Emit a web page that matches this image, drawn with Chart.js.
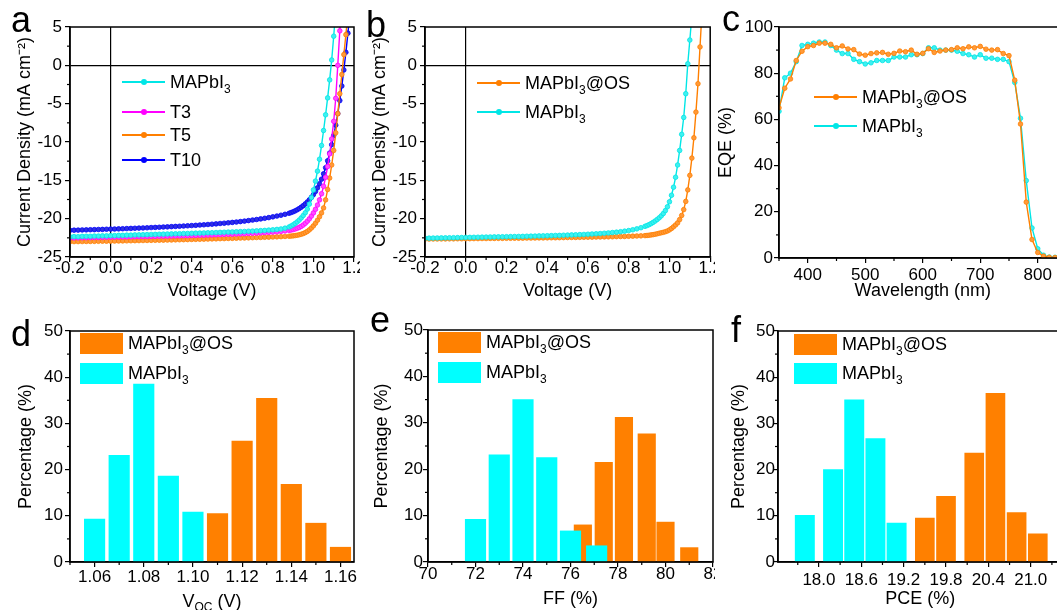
<!DOCTYPE html>
<html>
<head>
<meta charset="utf-8">
<script src="https://cdn.jsdelivr.net/npm/chart.js@4.4.1/dist/chart.umd.min.js"></script>
<style>
  body { margin: 0; width: 1057px; height: 610px; overflow: hidden; background: #fff; position: relative;
         font-family: 'Liberation Sans', Arial, sans-serif; color: #000; }
  canvas { position: absolute; }
  .tag { position: absolute; font-size: 36px; line-height: 1; }
  .lg { position: absolute; display: flex; align-items: center; height: 22px; font-size: 18px; white-space: nowrap; }
  .lg sub { font-size: 12px; vertical-align: -5px; line-height: 0; }
  .ln { display: inline-block; position: relative; width: 43px; height: 2px; margin-right: 5px; background: var(--c); }
  .ln::after { content: ''; position: absolute; left: 50%; top: 50%; width: 6px; height: 6px; margin: -3px 0 0 -3px;
               border-radius: 50%; background: var(--c); }
  .bx { display: inline-block; width: 43px; height: 21px; margin-right: 5px; background: var(--c); }
  .xt { position: absolute; font-size: 18px; white-space: nowrap; transform: translateX(-50%); }
  .xt sub { font-size: 12px; vertical-align: -4px; line-height: 0; }
</style>
</head>
<body>
<canvas id="pa" width="360" height="305" style="left:0;top:0"></canvas>
<canvas id="pb" width="360" height="305" style="left:355px;top:0"></canvas>
<canvas id="pc" width="400" height="305" style="left:710px;top:0"></canvas>
<canvas id="pd" width="360" height="310" style="left:0;top:300px"></canvas>
<canvas id="pe" width="360" height="310" style="left:355px;top:300px"></canvas>
<canvas id="pf" width="400" height="310" style="left:710px;top:300px"></canvas>

<div class="tag" style="left:11px;top:2px">a</div>
<div class="tag" style="left:366px;top:7px">b</div>
<div class="tag" style="left:722px;top:1px">c</div>
<div class="tag" style="left:11px;top:316px">d</div>
<div class="tag" style="left:370px;top:302px">e</div>
<div class="tag" style="left:731px;top:312px">f</div>

<div class="lg" style="left:122px;top:71px"><span class="ln" style="--c:#00e6e6"></span><span>MAPbI<sub>3</sub></span></div>
<div class="lg" style="left:122px;top:101px"><span class="ln" style="--c:#ff00ff"></span><span>T3</span></div>
<div class="lg" style="left:122px;top:124px"><span class="ln" style="--c:#ff7f00"></span><span>T5</span></div>
<div class="lg" style="left:122px;top:149px"><span class="ln" style="--c:#0000ff"></span><span>T10</span></div>

<div class="lg" style="left:477px;top:72px"><span class="ln" style="--c:#ff7f00"></span><span>MAPbI<sub>3</sub>@OS</span></div>
<div class="lg" style="left:477px;top:101px"><span class="ln" style="--c:#00e6e6"></span><span>MAPbI<sub>3</sub></span></div>

<div class="lg" style="left:814px;top:86px"><span class="ln" style="--c:#ff7f00"></span><span>MAPbI<sub>3</sub>@OS</span></div>
<div class="lg" style="left:814px;top:115px"><span class="ln" style="--c:#00e6e6"></span><span>MAPbI<sub>3</sub></span></div>

<div class="lg" style="left:80px;top:332px"><span class="bx" style="--c:#ff8000"></span><span>MAPbI<sub>3</sub>@OS</span></div>
<div class="lg" style="left:80px;top:362px"><span class="bx" style="--c:#00ffff"></span><span>MAPbI<sub>3</sub></span></div>
<div class="lg" style="left:438px;top:331px"><span class="bx" style="--c:#ff8000"></span><span>MAPbI<sub>3</sub>@OS</span></div>
<div class="lg" style="left:438px;top:361px"><span class="bx" style="--c:#00ffff"></span><span>MAPbI<sub>3</sub></span></div>
<div class="lg" style="left:794px;top:333px"><span class="bx" style="--c:#ff8000"></span><span>MAPbI<sub>3</sub>@OS</span></div>
<div class="lg" style="left:794px;top:362px"><span class="bx" style="--c:#00ffff"></span><span>MAPbI<sub>3</sub></span></div>

<div class="xt" style="left:212px;top:591px">V<sub>OC</sub> (V)</div>

<script>
// ---- J-V data (panels a, b): voltage grid and current density per device ----
const vGrid = [-0.2,-0.18,-0.16,-0.14,-0.12,-0.1,-0.08,-0.06,-0.04,-0.02,
  0,0.02,0.04,0.06,0.08,0.1,0.12,0.14,0.16,0.18,
  0.2,0.22,0.24,0.26,0.28,0.3,0.32,0.34,0.36,0.38,
  0.4,0.42,0.44,0.46,0.48,0.5,0.52,0.54,0.56,0.58,
  0.6,0.62,0.64,0.66,0.68,0.7,0.72,0.74,0.76,0.78,
  0.8,0.82,0.84,0.86,0.88,
  0.89,0.9,0.91,0.92,0.93,0.94,0.95,0.96,0.97,0.98,
  0.99,1.0,1.01,1.02,1.03,1.04,1.05,1.06,1.07,1.08,
  1.09,1.1,1.11,1.12,1.13,1.14,1.15,1.16,1.17,1.18];

const jvA_MAPbI3 = [-22.36,-22.34,-22.35,-22.31,-22.30,-22.30,-22.27,-22.27,-22.24,-22.24,
  -22.21,-22.21,-22.18,-22.18,-22.15,-22.15,-22.12,-22.11,-22.09,-22.08,
  -22.06,-22.05,-22.03,-22.02,-22.00,-21.99,-21.97,-21.96,-21.94,-21.93,
  -21.91,-21.89,-21.88,-21.86,-21.84,-21.83,-21.81,-21.79,-21.77,-21.75,
  -21.73,-21.71,-21.69,-21.67,-21.64,-21.62,-21.59,-21.56,-21.53,-21.49,
  -21.45,-21.40,-21.34,-21.24,-21.08,
  -20.95,-20.80,-20.62,-20.42,-20.18,-19.90,-19.58,-19.22,-18.75,-18.10,
  -17.25,-16.25,-15.10,-13.80,-12.25,-10.45,-8.50,-6.45,-4.25,-1.90,
  0.70,3.80,7.20];
const jvA_T3 = [-22.52,-22.51,-22.50,-22.49,-22.48,-22.47,-22.46,-22.45,-22.44,-22.43,
  -22.42,-22.41,-22.40,-22.39,-22.38,-22.37,-22.36,-22.35,-22.34,-22.33,
  -22.32,-22.31,-22.30,-22.29,-22.28,-22.27,-22.26,-22.25,-22.23,-22.22,
  -22.20,-22.19,-22.17,-22.16,-22.14,-22.12,-22.10,-22.08,-22.06,-22.04,
  -22.02,-22.00,-21.98,-21.96,-21.93,-21.91,-21.88,-21.85,-21.82,-21.79,
  -21.75,-21.71,-21.66,-21.60,-21.53,
  -21.48,-21.42,-21.34,-21.25,-21.14,-21.00,-20.82,-20.60,-20.33,-20.02,
  -19.66,-19.25,-18.78,-18.22,-17.55,-16.75,-15.78,-14.60,-13.20,-11.55,
  -9.60,-7.30,-4.30,0.00,4.50,9.00];
const jvA_T5 = [-23.00,-22.99,-22.99,-22.98,-22.97,-22.97,-22.96,-22.95,-22.94,-22.94,
  -22.93,-22.92,-22.91,-22.90,-22.89,-22.88,-22.87,-22.86,-22.85,-22.84,
  -22.83,-22.82,-22.81,-22.80,-22.79,-22.78,-22.76,-22.75,-22.74,-22.73,
  -22.71,-22.70,-22.69,-22.67,-22.66,-22.64,-22.63,-22.61,-22.60,-22.58,
  -22.57,-22.55,-22.53,-22.52,-22.50,-22.48,-22.46,-22.45,-22.43,-22.41,
  -22.39,-22.37,-22.35,-22.32,-22.29,
  -22.27,-22.24,-22.20,-22.16,-22.10,-22.03,-21.94,-21.82,-21.66,-21.46,
  -21.22,-20.94,-20.60,-20.20,-19.75,-19.25,-18.60,-17.55,-16.20,-14.70,
  -13.00,-11.10,-8.80,-6.30,-3.70,-1.20,1.40,4.00,6.70];
const jvA_T10 = [-21.52,-21.50,-21.49,-21.47,-21.46,-21.44,-21.43,-21.41,-21.40,-21.38,
  -21.36,-21.35,-21.33,-21.31,-21.29,-21.27,-21.25,-21.23,-21.21,-21.19,
  -21.16,-21.14,-21.12,-21.09,-21.07,-21.04,-21.01,-20.99,-20.96,-20.93,
  -20.90,-20.87,-20.83,-20.80,-20.76,-20.72,-20.68,-20.63,-20.59,-20.54,
  -20.49,-20.44,-20.38,-20.32,-20.25,-20.18,-20.11,-20.03,-19.95,-19.86,
  -19.76,-19.66,-19.55,-19.43,-19.30,
  -19.20,-19.10,-18.98,-18.84,-18.68,-18.50,-18.30,-18.07,-17.82,-17.54,
  -17.22,-16.86,-16.45,-15.98,-15.45,-14.85,-14.15,-13.35,-12.45,-11.45,
  -10.35,-9.15,-7.80,-6.30,-4.60,-2.70,-0.60,1.70,4.20,6.90];

const jvB_OS = [-22.66,-22.66,-22.65,-22.65,-22.64,-22.64,-22.63,-22.63,-22.62,-22.62,
  -22.61,-22.61,-22.60,-22.60,-22.59,-22.59,-22.58,-22.58,-22.57,-22.57,
  -22.56,-22.56,-22.55,-22.55,-22.54,-22.53,-22.53,-22.52,-22.51,-22.51,
  -22.50,-22.49,-22.49,-22.48,-22.47,-22.46,-22.45,-22.45,-22.44,-22.43,
  -22.42,-22.41,-22.40,-22.39,-22.38,-22.37,-22.36,-22.34,-22.33,-22.32,
  -22.30,-22.28,-22.26,-22.24,-22.21,
  -22.19,-22.16,-22.12,-22.08,-22.03,-21.97,-21.90,-21.84,-21.78,-21.70,
  -21.60,-21.46,-21.28,-21.06,-20.82,-20.55,-20.12,-19.58,-18.82,-17.75,
  -16.25,-14.35,-12.10,-9.45,-6.10,-2.40,2.40,7.20];
const jvB_MAPbI3 = [-22.55,-22.54,-22.53,-22.52,-22.51,-22.50,-22.49,-22.48,-22.47,-22.46,
  -22.45,-22.44,-22.43,-22.42,-22.41,-22.40,-22.39,-22.38,-22.37,-22.36,
  -22.35,-22.34,-22.33,-22.32,-22.31,-22.29,-22.28,-22.27,-22.25,-22.24,
  -22.22,-22.21,-22.19,-22.18,-22.16,-22.14,-22.12,-22.10,-22.08,-22.06,
  -22.03,-22.00,-21.97,-21.94,-21.90,-21.86,-21.81,-21.76,-21.70,-21.63,
  -21.55,-21.45,-21.33,-21.18,-21.00,
  -20.90,-20.78,-20.64,-20.48,-20.30,-20.10,-19.88,-19.63,-19.33,-18.95,
  -18.45,-17.80,-16.95,-15.90,-14.60,-13.00,-11.10,-9.00,-6.80,-3.70,
  0.20,3.30,6.50];

// ---- EQE data (panel c) ----
const wavelength = [350,360,370,380,390,400,410,420,430,440,
  450,460,470,480,490,500,510,520,530,540,
  550,560,570,580,590,600,610,620,630,640,
  650,660,670,680,690,700,710,720,730,740,
  750,760,770,780,790,800,810,820,830,840];
const eqeOS = [65,73.5,77.5,85.5,89.5,91.5,92,93,93,92.5,
  91,91.8,90.5,90.2,88.3,87.8,88.5,88.8,89,88.2,
  88.6,89.6,89.3,90,88.2,88.6,90.6,89,89.6,90,
  90.2,91,90.6,91.4,91,91.6,90.4,90,90.2,88.5,
  87.6,77,58,24.2,8,2.4,0.8,0.3,0.2,0.1];
const eqeRef = [63.5,78,80,85,92,92.5,93,93.5,93.5,92,
  90,88.5,88.5,86,85,84,84.5,85.5,85.5,85.5,
  87,87,87,88,88,88.5,91,91,90,90,
  90,89.5,88.5,88,87,88,86.5,86.5,86,86,
  85,76,60.5,33.5,13,4,1.2,0.4,0.3,0.2];

// ---- statistics histograms (panels d, e, f): bin centre and percentage ----
const vocRefBins = [1.06, 1.07, 1.08, 1.09, 1.10];
const vocRefPct  = [9.3, 23.1, 38.5, 18.6, 10.8];
const vocOSBins  = [1.11, 1.12, 1.13, 1.14, 1.15, 1.16];
const vocOSPct   = [10.5, 26.2, 35.4, 16.8, 8.4, 3.2];

const ffRefBins = [72, 73, 74, 75, 76, 77.1];
const ffRefPct  = [9.2, 23.1, 35.0, 22.5, 6.7, 3.5];
const ffOSBins  = [76.52, 77.4, 78.25, 79.21, 80.0, 81.0];
const ffOSPct   = [8.0, 21.5, 31.2, 27.6, 8.6, 3.1];

const pceRefBins = [17.8, 18.2, 18.5, 18.8, 19.1];
const pceRefPct  = [10.1, 20.0, 35.1, 26.7, 8.4];
const pceOSBins  = [19.5, 19.8, 20.2, 20.5, 20.8, 21.1];
const pceOSPct   = [9.5, 14.2, 23.6, 36.5, 10.7, 6.1];

// ---- tick labels ----
const jvXTicks  = [-0.2, 0, 0.2, 0.4, 0.6, 0.8, 1.0, 1.2];
const jvYTicks  = [-25, -20, -15, -10, -5, 0, 5];
const eqeXTicks = [400, 500, 600, 700, 800];
const eqeYTicks = [0, 20, 40, 60, 80, 100];
const pctTicks  = [0, 10, 20, 30, 40, 50];
const vocTicks  = [1.06, 1.08, 1.10, 1.12, 1.14, 1.16];
const ffTicks   = [70, 72, 74, 76, 78, 80, 82];
const pceTicks  = [18.0, 18.6, 19.2, 19.8, 20.4, 21.0];

Chart.defaults.font.family = "'Liberation Sans', Arial, sans-serif";
Chart.defaults.color = '#000';

// box round the plot area plus short minor ticks half way between the major ones
const framePlugin = {
  id: 'frame',
  afterDraw(chart) {
    const { ctx, chartArea: a, scales } = chart;
    ctx.save();
    ctx.strokeStyle = '#000';
    ctx.lineWidth = 1.5;
    ctx.strokeRect(a.left, a.top, a.right - a.left, a.bottom - a.top);
    ctx.lineWidth = 1.2;
    ['x', 'y'].forEach(id => {
      const s = scales[id];
      const t = s.ticks.map(k => k.value);
      const step = t[1] - t[0];
      const minor = [t[0] - step / 2].concat(t.map(v => v + step / 2));
      minor.forEach(v => {
        if (v < s.min - 1e-9 || v > s.max + 1e-9) return;
        const p = s.getPixelForValue(v);
        ctx.beginPath();
        if (id === 'x') { ctx.moveTo(p, a.bottom); ctx.lineTo(p, a.bottom + 3); }
        else { ctx.moveTo(a.left, p); ctx.lineTo(a.left - 3, p); }
        ctx.stroke();
      });
    });
    ctx.restore();
  }
};

function axis(o) {
  return {
    type: 'linear', min: o.min, max: o.max, offset: false,
    afterBuildTicks: s => { s.ticks = o.ticks.map(v => ({ value: v })); },
    afterFit: s => {
      if (s.isHorizontal()) s.height = o.size; else s.width = o.size;
      s.paddingLeft = s.paddingRight = s.paddingTop = s.paddingBottom = 0;
    },
    ticks: { autoSkip: false, maxRotation: 0, padding: o.pad, font: { size: 17 }, color: '#000',
             callback: v => v.toFixed(o.dec || 0) },
    grid: { offset: false, drawOnChartArea: !!o.zero, drawTicks: true, tickLength: 5,
            tickColor: '#000', tickWidth: 1.2, lineWidth: 1.2,
            color: c => (c.tick && c.tick.value === 0) ? '#000' : 'rgba(0,0,0,0)' },
    border: { display: true, color: '#000', width: 1.5 },
    title: { display: !!o.title, text: o.title || '', font: { size: 18 }, color: '#000', padding: o.tpad || 0 }
  };
}

function pts(xs, ys) {
  return ys.map((y, i) => ({ x: xs[i], y: y }));
}

function curve(label, xs, ys, col, fill, order) {
  return { label, data: pts(xs, ys), showLine: true, borderColor: col, borderWidth: 1.4,
           pointRadius: 2.3, pointBorderWidth: 0.8, pointBackgroundColor: fill, pointBorderColor: col, order };
}

function bars(label, xs, ys, col, w, order) {
  return { label, data: pts(xs, ys), backgroundColor: col, barThickness: w, grouped: false, order };
}

function makeChart(id, type, sets, xa, ya, pad) {
  return new Chart(document.getElementById(id), {
    type: type,
    data: { datasets: sets },
    options: {
      responsive: false, animation: false,
      layout: { padding: pad },
      plugins: { legend: { display: false }, tooltip: { enabled: false } },
      scales: { x: xa, y: ya }
    },
    plugins: [framePlugin]
  });
}

const CYAN = '#00e6e6', CYANPT = '#3ff0f0';
const ORANGE = '#ff7f00', ORANGEPT = '#ff9a3a';

// a
makeChart('pa', 'scatter', [
  curve('MAPbI3', vGrid, jvA_MAPbI3, CYAN, CYANPT, 0),
  curve('T3', vGrid, jvA_T3, '#ff00ff', '#ff4dff', 1),
  curve('T5', vGrid, jvA_T5, ORANGE, ORANGEPT, 2),
  curve('T10', vGrid, jvA_T10, '#0000ff', '#3030e0', 3)
],
  axis({ min: -0.2, max: 1.2, ticks: jvXTicks, dec: 1, pad: -4, size: 48, zero: true,
         title: 'Voltage (V)', tpad: { bottom: 3 } }),
  axis({ min: -25, max: 5, ticks: jvYTicks, pad: 3, size: 70, zero: true,
         title: 'Current Density (mA cm\u207B\u00B2)', tpad: { top: 14 } }),
  { left: 0, top: 27, right: 6, bottom: 0 });

// b
makeChart('pb', 'scatter', [
  curve('MAPbI3', vGrid, jvB_MAPbI3, CYAN, CYANPT, 0),
  curve('MAPbI3@OS', vGrid, jvB_OS, ORANGE, ORANGEPT, 1)
],
  axis({ min: -0.2, max: 1.2, ticks: jvXTicks, dec: 1, pad: -4, size: 48, zero: true,
         title: 'Voltage (V)', tpad: { bottom: 3 } }),
  axis({ min: -25, max: 5, ticks: jvYTicks, pad: 3, size: 70, zero: true,
         title: 'Current Density (mA cm\u207B\u00B2)', tpad: { top: 14 } }),
  { left: 0, top: 27, right: 4, bottom: 0 });

// c
makeChart('pc', 'scatter', [
  curve('MAPbI3@OS', wavelength, eqeOS, ORANGE, ORANGEPT, 0),
  curve('MAPbI3', wavelength, eqeRef, CYAN, CYANPT, 1)
],
  axis({ min: 350, max: 850, ticks: eqeXTicks, pad: 2, size: 47,
         title: 'Wavelength (nm)', tpad: { bottom: 3 } }),
  axis({ min: 0, max: 100, ticks: eqeYTicks, pad: 1, size: 69,
         title: 'EQE (%)', tpad: { top: 5 } }),
  { left: 0, top: 27, right: 43.5, bottom: 0 });

// d
makeChart('pd', 'bar', [
  bars('MAPbI3', vocRefBins, vocRefPct, '#00ffff', 20.5, 0),
  bars('MAPbI3@OS', vocOSBins, vocOSPct, '#ff8000', 20.5, 1)
],
  axis({ min: 1.05, max: 1.1655, ticks: vocTicks, dec: 2, pad: 0, size: 48 }),
  axis({ min: 0, max: 50, ticks: pctTicks, pad: 2, size: 70,
         title: 'Percentage (%)', tpad: { top: 15 } }),
  { left: 0, top: 31, right: 6, bottom: 0 });

// e
makeChart('pe', 'bar', [
  bars('MAPbI3', ffRefBins, ffRefPct, '#00ffff', 20.5, 0),
  bars('MAPbI3@OS', ffOSBins, ffOSPct, '#ff8000', 17.5, 1)
],
  axis({ min: 70, max: 82, ticks: ffTicks, pad: -3, size: 48,
         title: 'FF (%)', tpad: { bottom: 0 } }),
  axis({ min: 0, max: 50, ticks: pctTicks, pad: 0, size: 73,
         title: 'Percentage (%)', tpad: { top: 16 } }),
  { left: 0, top: 30, right: 2, bottom: 0 });

// f
makeChart('pf', 'bar', [
  bars('MAPbI3', pceRefBins, pceRefPct, '#00ffff', 19.3, 0),
  bars('MAPbI3@OS', pceOSBins, pceOSPct, '#ff8000', 19, 1)
],
  axis({ min: 17.42, max: 21.45, ticks: pceTicks, dec: 1, pad: 3, size: 48,
         title: 'PCE (%)', tpad: { bottom: 0 } }),
  axis({ min: 0, max: 50, ticks: pctTicks, pad: -2, size: 68,
         title: 'Percentage (%)', tpad: { top: 18 } }),
  { left: 0, top: 31, right: 47.5, bottom: 0 });
</script>
</body>
</html>
